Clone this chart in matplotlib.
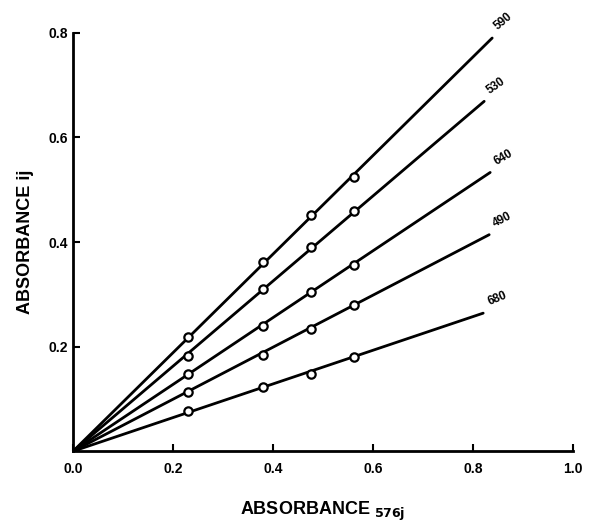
import matplotlib.pyplot as plt

# absorbance at 576 nm (x) for the four standards
x_points = [0.23, 0.38, 0.475, 0.562]

# absorbance at the other wavelengths (y)
wavelengths = ['590', '530', '640', '490', '680']
y_590 = [0.218, 0.362, 0.452, 0.525]
y_530 = [0.182, 0.310, 0.390, 0.460]
y_640 = [0.148, 0.240, 0.305, 0.356]
y_490 = [0.113, 0.184, 0.234, 0.280]
y_680 = [0.077, 0.123, 0.148, 0.180]
series = [y_590, y_530, y_640, y_490, y_680]

# end point of each fitted line (from origin)
line_end_x = [0.838, 0.822, 0.834, 0.832, 0.820]
line_end_y = [0.790, 0.669, 0.533, 0.414, 0.264]

x_ticks = [0.0, 0.2, 0.4, 0.6, 0.8, 1.0]
y_ticks = [0.0, 0.2, 0.4, 0.6, 0.8]

plt.rcParams['font.family'] = ['Liberation Sans', 'DejaVu Sans']
plt.rcParams['font.weight'] = 'bold'

fig = plt.figure(figsize=(5.94, 5.29), dpi=100)
ax = fig.add_axes([0.123, 0.147, 0.842, 0.791])

label_rot = [40, 35, 30, 27, 22]
for ys, ex, ey, lab, rot in zip(series, line_end_x, line_end_y, wavelengths, label_rot):
    ax.plot([0, ex], [0, ey], color='black', lw=2, solid_capstyle='round', zorder=2)
    ax.plot(x_points, ys, 'o', ms=6, mfc='white', mec='black', mew=1.6, zorder=3)
    ax.text(ex + 0.015, ey + 0.01, lab, fontsize=8.5, fontweight='bold',
            rotation=rot, ha='left', va='bottom', rotation_mode='anchor')

ax.set_xlim(0, 1.0)
ax.set_ylim(0, 0.8)
ax.set_xticks(x_ticks)
ax.set_yticks(y_ticks)
ax.set_xticklabels([f'{t:.1f}' for t in x_ticks])
ax.set_yticklabels(['0.0', '0.2', '0.4', '0.6', '0.8'])
ax.yaxis.get_major_ticks()[0].label1.set_visible(False)
ax.tick_params(direction='in', length=5, width=1.5, labelsize=10)
ax.tick_params(axis='x', pad=8)
for s in ['top', 'right']:
    ax.spines[s].set_visible(False)
for s in ['left', 'bottom']:
    ax.spines[s].set_linewidth(2)

ax.set_xlabel(r'ABSORBANCE $_{\mathbf{576j}}$', fontsize=13, fontweight='bold', labelpad=17)
ax.set_ylabel('ABSORBANCE ij', fontsize=13, fontweight='bold')
ax.yaxis.set_label_coords(-0.078, 0.5)

fig.savefig('out.png', dpi=100)
